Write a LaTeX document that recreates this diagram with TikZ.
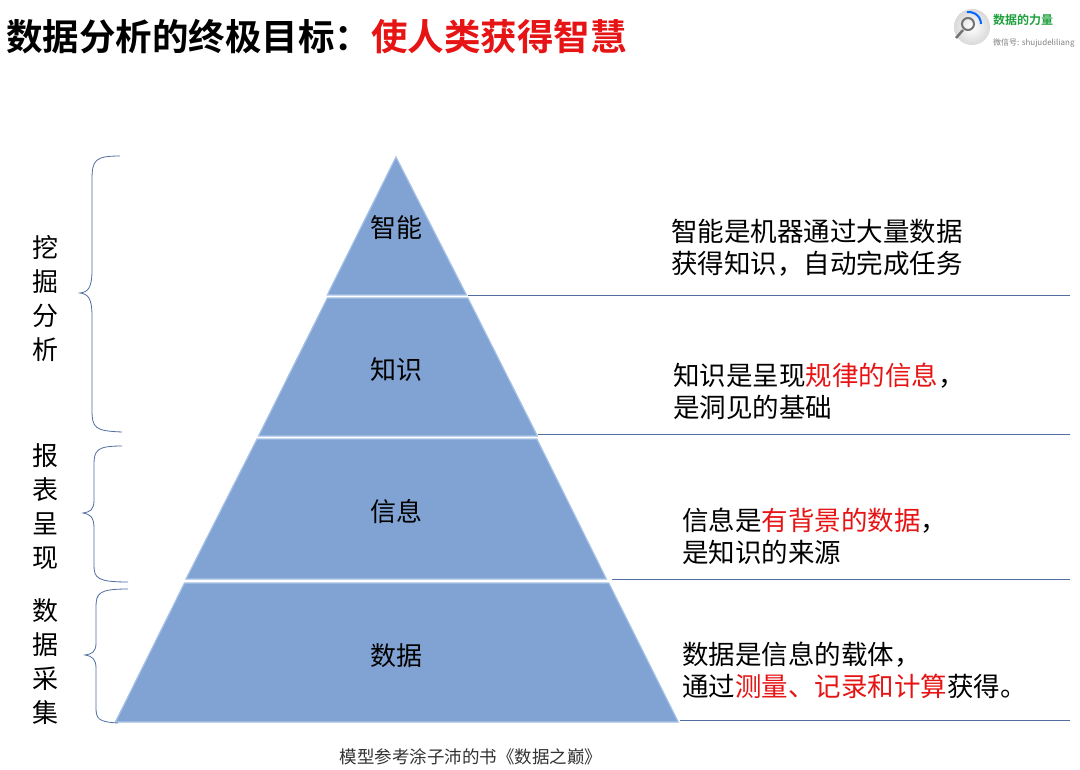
\documentclass[tikz,border=0pt]{standalone}
\usepackage{fontspec}
\setmainfont{Noto Sans CJK SC}
\newfontfamily\cjkb{Noto Sans CJK SC Bold}
\begin{document}
\begin{tikzpicture}[x=1pt,y=-1pt,
  band/.style={fill=pyr,draw=pyredge,line width=1.2pt},
  lbl/.style={font=\fontsize{26}{28}\selectfont,inner sep=0pt},
  desc/.style={font=\fontsize{26.5}{32}\selectfont,align=left,anchor=west,inner sep=0pt},
  vlab/.style={font=\fontsize{26}{34}\selectfont,align=center,inner sep=0pt},
  rline/.style={draw=lineblue,line width=0.8pt},
  brace/.style={draw=lineblue,line width=0.8pt}]
\definecolor{pyr}{RGB}{128,163,212}
\definecolor{pyredge}{RGB}{168,194,230}
\definecolor{lineblue}{RGB}{80,110,160}
\definecolor{tred}{RGB}{230,20,20}
\definecolor{lgreen}{RGB}{30,160,60}
\useasboundingbox (0,0) rectangle (1080,770);
\fill[white] (0,0) rectangle (1080,770);
% title
\node[anchor=west,inner sep=0pt,font=\cjkb\fontsize{36.5}{40}\selectfont] (title) at (6,37) {数据分析的终极目标：\textcolor{tred}{使人类获得智慧}};
% logo
\shade[inner color=white,outer color=black!15] (972,27) circle (18);
\draw[black!55,line width=2pt] (968,24) circle (6);
\draw[black!55,line width=2.5pt] (963,30) -- (956,38);
\draw[blue!60!cyan,line width=2pt] (981,24) arc (0:-100:12);
\node[anchor=west,inner sep=0pt,font=\cjkb\fontsize{12}{14}\selectfont,text=lgreen] (logo1) at (993,20) {数据的力量};
\node[anchor=west,inner sep=0pt,font=\fontsize{8}{10}\selectfont,text=black!50] (logo2) at (993,43) {微信号: shujudeliliang};
% pyramid bands
\path[band] (396,157) -- (466.5,295) -- (327.3,295) -- cycle;
\path[band] (327.3,298) -- (467.9,298) -- (537.4,436) -- (258.5,436) -- cycle;
\path[band] (257.0,439) -- (536.9,439) -- (606.4,579) -- (186.0,579) -- cycle;
\path[band] (184.5,583) -- (608.8,583) -- (678.2,722) -- (115.4,722) -- cycle;
\node[lbl] (n1) at (396,228) {智能};
\node[lbl] (n2) at (396,370) {知识};
\node[lbl] (n3) at (396,512) {信息};
\node[lbl] (n4) at (396,656) {数据};
% right lines
\coordinate (a1) at (468,295); \coordinate (b1) at (1070,295);
\coordinate (a2) at (538,434); \coordinate (b2) at (1070,434);
\coordinate (a3) at (612,579); \coordinate (b3) at (1070,579);
\coordinate (a4) at (680,720); \coordinate (b4) at (1070,720);
\draw[rline] (a1) -- (b1); \draw[rline] (a2) -- (b2);
\draw[rline] (a3) -- (b3); \draw[rline] (a4) -- (b4);
% descriptions
\node[desc] (d1) at (671,248) {智能是机器通过大量数据\\获得知识，自动完成任务};
\node[desc] (d2) at (673,391) {知识是呈现\textcolor{tred}{规律的信息}，\\是洞见的基础};
\node[desc] (d3) at (682,536) {信息是\textcolor{tred}{有背景的数据}，\\是知识的来源};
\node[desc] (d4) at (682,670) {数据是信息的载体，\\通过\textcolor{tred}{测量、记录和计算}获得。};
% braces
\draw[brace] (120,156) .. controls (95,156) and (92,160) .. (92,180) -- (92,270) .. controls (92,288) and (88,292) .. (80,293)
  .. controls (88,294) and (92,298) .. (92,316) -- (92,410) .. controls (92,428) and (95,431) .. (122,432);
\draw[brace] (122,446) .. controls (97,446) and (94,450) .. (94,465) -- (94,500) .. controls (94,510) and (90,512) .. (83,513)
  .. controls (90,514) and (94,517) .. (94,528) -- (94,565) .. controls (94,578) and (97,582) .. (128,582);
\draw[brace] (128,589) .. controls (99,589) and (96,593) .. (96,607) -- (96,643) .. controls (96,652) and (92,654) .. (85,655)
  .. controls (92,656) and (96,659) .. (96,668) -- (96,708) .. controls (96,719) and (99,722) .. (118,723);
\node[vlab] (v1) at (45,299) {挖\\掘\\分\\析};
\node[vlab] (v2) at (45,507) {报\\表\\呈\\现};
\node[vlab] (v3) at (45,662) {数\\据\\采\\集};
% caption
\node[inner sep=0pt,font=\fontsize{17.5}{19}\selectfont,text=black!80] (cap) at (471,757) {模型参考涂子沛的书《数据之巅》};
\end{tikzpicture}
\end{document}
